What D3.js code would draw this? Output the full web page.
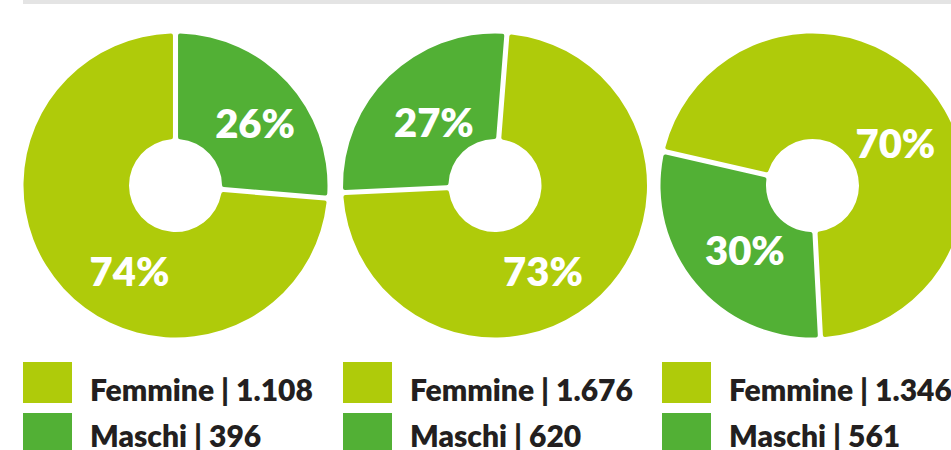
<!DOCTYPE html>
<html>
<head>
<meta charset="utf-8">
<script src="https://cdn.jsdelivr.net/npm/d3@7"></script>
<style>
  html, body { margin: 0; padding: 0; background: #fff; }
  svg { display: block; }
</style>
</head>
<body>
<div id="chart"></div>
<script>
// DATA
var femmine    = [1108, 1676, 1346];
var maschi     = [396, 620, 561];
var pctFemmine = ['74%', '73%', '70%'];
var pctMaschi  = ['26%', '27%', '30%'];
var seriesNames = ['Femmine', 'Maschi'];

// LAYOUT (not data)
var width   = 951;
var height  = 450;
var centers = [175.5, 495, 812.5];
var cy      = 185.5;
var outerR  = 152;
var innerR  = 46.5;
// where the maschi slice starts on each ring (degrees, clockwise from top)
var startDeg = [0, 267.3, 177];
// label angle / radius [maschi, femmine], like the original artwork
var labelDeg = [[52, 208], [316, 151], [226, 63]];
var labelR   = [[101, 98], [88, 99], [94, 93]];
var colors   = ['#afcb0a', '#52b035'];   // femmine, maschi

var itFormat = d3.formatLocale({ decimal: ',', thousands: '.', grouping: [3], currency: ['€', ''] }).format(',d');

var svg = d3.select('#chart')
  .append('svg')
  .attr('width', width)
  .attr('height', height);

// grey rule on top
svg.append('rect')
  .attr('x', 23).attr('y', 0)
  .attr('width', width - 23).attr('height', 4)
  .attr('fill', '#e4e4e4');

var arc = d3.arc()
  .innerRadius(innerR)
  .outerRadius(outerR)
  .padAngle(0.032)
  .cornerRadius(2);

var labelArc = d3.arc();

for (let i = 0; i < centers.length; i++) {
  // order: maschi first, then femmine, clockwise
  var values = [
    { key: 'Maschi',  value: maschi[i],  color: colors[1], pct: pctMaschi[i],  la: labelDeg[i][0], lr: labelR[i][0] },
    { key: 'Femmine', value: femmine[i], color: colors[0], pct: pctFemmine[i], la: labelDeg[i][1], lr: labelR[i][1] }
  ];
  var s = startDeg[i] * Math.PI / 180;
  var pie = d3.pie()
    .sort(null)
    .value(function(d) { return d.value; })
    .startAngle(s)
    .endAngle(s + 2 * Math.PI);

  var g = svg.append('g')
    .attr('transform', 'translate(' + centers[i] + ',' + cy + ')');

  g.selectAll('path')
    .data(pie(values))
    .enter()
    .append('path')
    .attr('d', arc)
    .attr('fill', function(d) { return d.data.color; });

  g.selectAll('text')
    .data(values)
    .enter()
    .append('text')
    .attr('transform', function(d) {
      var a = d.la * Math.PI / 180;
      var c = labelArc.innerRadius(d.lr).outerRadius(d.lr).startAngle(a).endAngle(a).centroid();
      return 'translate(' + c[0] + ',' + c[1] + ')';
    })
    .attr('dy', '0.36em')
    .attr('text-anchor', 'middle')
    .attr('font-family', 'Lato, sans-serif')
    .attr('font-weight', 800)
    .attr('font-size', '40px')
    .attr('fill', '#fff')
    .text(function(d) { return d.pct; });
}

// legend
var legendX = [23, 343, 662];
for (let i = 0; i < legendX.length; i++) {
  var rows = [
    { color: colors[0], text: seriesNames[0] + ' | ' + itFormat(femmine[i]) },
    { color: colors[1], text: seriesNames[1] + ' | ' + itFormat(maschi[i]) }
  ];
  var lg = svg.append('g')
    .attr('transform', 'translate(' + legendX[i] + ',362)');

  lg.selectAll('rect')
    .data(rows)
    .enter()
    .append('rect')
    .attr('x', 0)
    .attr('y', function(d, j) { return j * 51; })
    .attr('width', 49)
    .attr('height', 41)
    .attr('fill', function(d) { return d.color; });

  lg.selectAll('text')
    .data(rows)
    .enter()
    .append('text')
    .attr('x', 67)
    .attr('y', function(d, j) { return 39 + j * 46; })
    .attr('font-family', 'Lato, sans-serif')
    .attr('font-weight', 800)
    .attr('font-size', '30px')
    .attr('fill', '#231f20')
    .text(function(d) { return d.text; });
}
</script>
</body>
</html>
